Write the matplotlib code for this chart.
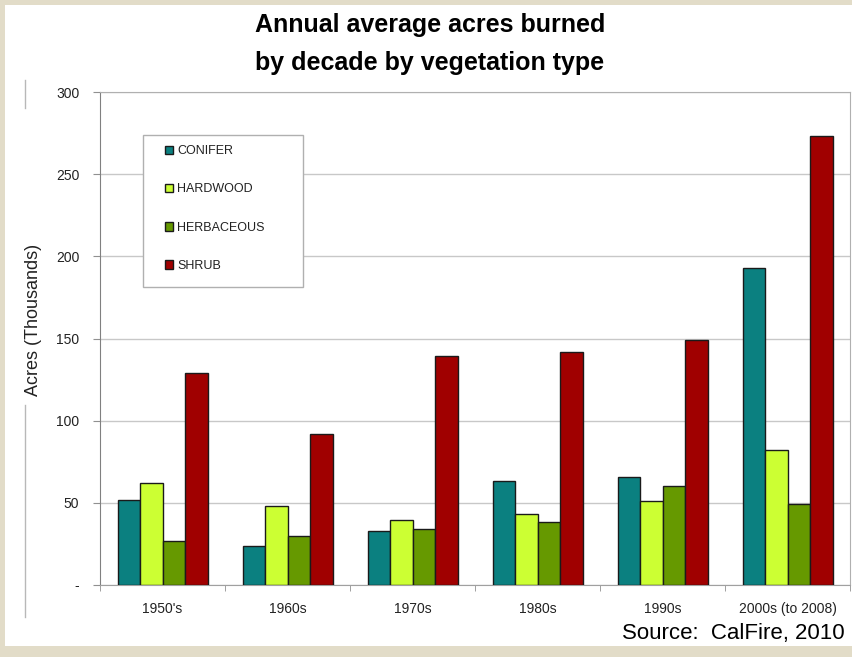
import matplotlib.pyplot as plt
import numpy as np
from matplotlib.patches import Rectangle
from matplotlib.lines import Line2D

# data (thousands of acres)
decades = ["1950's", '1960s', '1970s', '1980s', '1990s', '2000s (to 2008)']
conifer = [52, 24, 33, 63.5, 66, 193]
hardwood = [62, 48, 39.5, 43.5, 51, 82]
herbaceous = [27, 30, 34, 38.5, 60.5, 49.5]
shrub = [129, 92, 139.5, 142, 149, 273]

series_names = ['CONIFER', 'HARDWOOD', 'HERBACEOUS', 'SHRUB']
series_colors = ['#0b8080', '#ccff33', '#669900', '#a00000']
yticks = [0, 50, 100, 150, 200, 250, 300]
ytick_labels = ['-', '50', '100', '150', '200', '250', '300']

BEIGE = '#e2dcc8'
plt.rcParams['font.family'] = ['Liberation Sans', 'DejaVu Sans']

fig = plt.figure(figsize=(8.52, 6.57), dpi=100)
fig.patch.set_facecolor(BEIGE)

# white slide panel
W, H = 852.0, 657.0
fig.patches.append(Rectangle((5 / W, 11 / H), 1, 1 - 16 / H, transform=fig.transFigure,
                             facecolor='white', edgecolor='none', zorder=0))
# faint edge of the pasted chart picture
fig.add_artist(Line2D([25 / W, 25 / W], [1 - 80 / H, 1 - 108 / H], transform=fig.transFigure,
                      color='#b8b8b8', lw=1))
fig.add_artist(Line2D([25 / W, 25 / W], [1 - 405 / H, 1 - 617 / H], transform=fig.transFigure,
                      color='#b8b8b8', lw=1))

ax = fig.add_axes([100 / W, 1 - 585 / H, 750 / W, 493 / H])
ax.set_zorder(2)
ax.set_facecolor('white')

x = np.arange(len(decades))
width = 0.18
all_series = [conifer, hardwood, herbaceous, shrub]
for i, (vals, name, col) in enumerate(zip(all_series, series_names, series_colors)):
    ax.bar(x + (i - 1.5) * width, vals, width, color=col, edgecolor='#1a1a1a',
           linewidth=1.0, label=name, zorder=3)

ax.set_xlim(-0.5, len(decades) - 0.5)
ax.set_ylim(0, 300)
ax.set_yticks(yticks)
ax.set_yticklabels(ytick_labels)
ax.yaxis.grid(True, color='#c8c8c8', linewidth=1.0, zorder=0)
ax.set_axisbelow(True)

ax.set_xticks(x)
ax.set_xticklabels(decades)
ax.set_xticks(np.arange(len(decades) + 1) - 0.5, minor=True)
ax.tick_params(axis='x', which='major', length=0, pad=12, labelsize=10, labelcolor='#222222')
ax.tick_params(axis='x', which='minor', length=4, color='#909090', direction='out')
ax.tick_params(axis='y', length=5, color='#909090', pad=10, labelsize=10, labelcolor='#222222')

for side in ['top', 'right']:
    ax.spines[side].set_color('#b0b0b0')
ax.spines['left'].set_color('#808080')
ax.spines['bottom'].set_color('#a0a0a0')

ax.set_ylabel('Acres (Thousands)', fontsize=13, color='#222222')
ax.yaxis.set_label_coords(-0.077, 0.538)

# legend box
ax.add_patch(Rectangle((0.057, 0.604), 0.214, 0.309, transform=ax.transAxes,
                       facecolor='white', edgecolor='#b0b0b0', linewidth=1, zorder=4))
leg = ax.legend(loc='upper left', bbox_to_anchor=(0.087, 0.892), borderaxespad=0, borderpad=0,
                frameon=False, fontsize=9, handlelength=0.65, handleheight=0.65,
                handletextpad=0.3, labelspacing=2.1)
leg.set_zorder(5)
for t in leg.get_texts():
    t.set_color('#222222')

fig.text(430 / W, 1 - 44 / H, 'Annual average acres burned\nby decade by vegetation type',
         ha='center', va='center', fontsize=18, fontweight='bold', linespacing=1.7)
fig.text(622 / W, 1 - 633 / H, 'Source:  CalFire, 2010', ha='left', va='center',
         fontsize=16)

fig.savefig('out.png', dpi=100, facecolor=BEIGE)
